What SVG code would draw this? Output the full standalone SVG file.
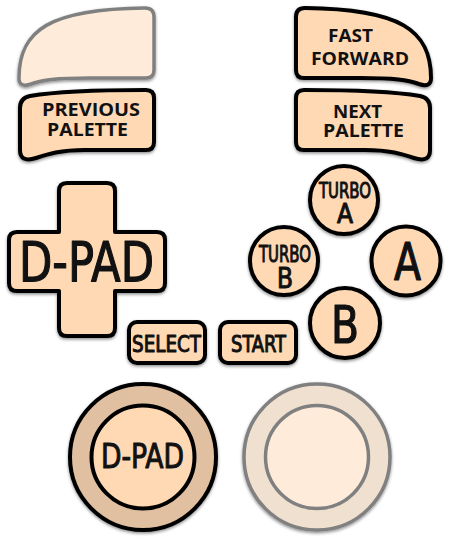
<svg xmlns="http://www.w3.org/2000/svg" width="450" height="540" viewBox="0 0 450 540">
<defs>
<filter id="sh" x="-20%" y="-20%" width="140%" height="140%">
<feDropShadow dx="0" dy="1.5" stdDeviation="1.8" flood-color="#000" flood-opacity="0.45"/>
</filter>
<path id="ttl" d="M 19,78 C 19,30 50,9 145,8 Q 154,8 154,17 L 154,70 Q 154,78 146,78 L 90,78 C 55,78 42,80 31,84 Q 19,88 19,78 Z"/>
<path id="pal" d="M 20,108 Q 20,98 30,96 C 60,91 100,90 146,90 Q 154,90 154,98 L 154,142 Q 154,150 146,150 L 85,150 C 60,150 48,154 36,158 Q 20,163 20,150 Z"/>
</defs>
<style>
.btn{fill:#FFD9B3;stroke:#000;stroke-width:4;stroke-linejoin:round;filter:url(#sh)}
.dis{fill:#FFEBD9;stroke:#808080;stroke-width:3.5;stroke-linejoin:round;filter:url(#sh)}
.lb{font-family:"Open Sans","Noto Sans",sans-serif;font-weight:700;font-size:17.5px;fill:#111}
.cd{font-family:"DejaVu Sans Condensed","DejaVu Sans",sans-serif;fill:#111;stroke:#111;stroke-width:1;stroke-linejoin:round}
</style>
<g id="slot-top-left">
<use href="#ttl" class="dis"/>
</g>
<g id="fast-forward">
<use href="#ttl" class="btn" transform="matrix(-1 0 0 1 450 0)"/>
<text class="lb" x="328" y="42" textLength="45" lengthAdjust="spacingAndGlyphs">FAST</text>
<text class="lb" x="311" y="65" textLength="98" lengthAdjust="spacingAndGlyphs">FORWARD</text>
</g>
<g id="previous-palette">
<use href="#pal" class="btn"/>
<text class="lb" x="42" y="116" textLength="98" lengthAdjust="spacingAndGlyphs">PREVIOUS</text>
<text class="lb" x="47" y="136" textLength="81" lengthAdjust="spacingAndGlyphs">PALETTE</text>
</g>
<g id="next-palette">
<use href="#pal" class="btn" transform="matrix(-1 0 0 1 450 0)"/>
<text class="lb" x="333" y="118" textLength="49" lengthAdjust="spacingAndGlyphs">NEXT</text>
<text class="lb" x="323" y="137" textLength="81" lengthAdjust="spacingAndGlyphs">PALETTE</text>
</g>
<g id="dpad">
<path class="btn" d="M 67,183 H 107 Q 115,183 115,191 V 232 H 157 Q 165,232 165,240 V 283 Q 165,291 157,291 H 115 V 328 Q 115,336 107,336 H 67 Q 59,336 59,328 V 291 H 17 Q 9,291 9,283 V 240 Q 9,232 17,232 H 59 V 191 Q 59,183 67,183 Z"/>
<text class="cd" x="19" y="281" font-size="56" textLength="135" lengthAdjust="spacingAndGlyphs" style="stroke-width:1.2">D-PAD</text>
</g>
<g id="select">
<rect class="btn" x="129" y="322" width="76" height="41" rx="8"/>
<text class="cd" x="132" y="352" font-size="23" textLength="69" lengthAdjust="spacingAndGlyphs">SELECT</text>
</g>
<g id="start">
<rect class="btn" x="220" y="322" width="76" height="41" rx="8"/>
<text class="cd" x="231" y="352" font-size="23" textLength="55" lengthAdjust="spacingAndGlyphs">START</text>
</g>
<g id="turbo-a">
<circle class="btn" cx="344" cy="200" r="34"/>
<text class="cd" x="319" y="198" font-size="21.5" textLength="52" lengthAdjust="spacingAndGlyphs">TURBO</text>
<text class="cd" x="337" y="223" font-size="27" textLength="16" lengthAdjust="spacingAndGlyphs">A</text>
</g>
<g id="turbo-b">
<circle class="btn" cx="284" cy="261" r="34"/>
<text class="cd" x="259" y="262" font-size="22.5" textLength="52" lengthAdjust="spacingAndGlyphs">TURBO</text>
<text class="cd" x="277" y="288" font-size="28.5" textLength="16" lengthAdjust="spacingAndGlyphs">B</text>
</g>
<g id="a">
<circle class="btn" cx="406" cy="261" r="34.5"/>
<text class="cd" x="394" y="280" font-size="51" textLength="27" lengthAdjust="spacingAndGlyphs" style="stroke-width:1.2">A</text>
</g>
<g id="b">
<circle class="btn" cx="345" cy="323" r="35"/>
<text class="cd" x="331" y="343" font-size="52" textLength="28" lengthAdjust="spacingAndGlyphs" style="stroke-width:1.2">B</text>
</g>
<g id="analog-dpad">
<circle class="btn" cx="143" cy="457" r="73" style="fill:#E0C0A0"/>
<circle cx="143" cy="457" r="51.5" fill="#FFD9B3" stroke="#000" stroke-width="4"/>
<text class="cd" x="101" y="468" font-size="34" textLength="83" lengthAdjust="spacingAndGlyphs">D-PAD</text>
</g>
<g id="analog-right">
<circle class="dis" cx="317" cy="457" r="73" style="fill:#F0E0D0"/>
<circle cx="317" cy="457" r="51.5" fill="#FFEBD9" stroke="#808080" stroke-width="3.5"/>
</g>
</svg>
